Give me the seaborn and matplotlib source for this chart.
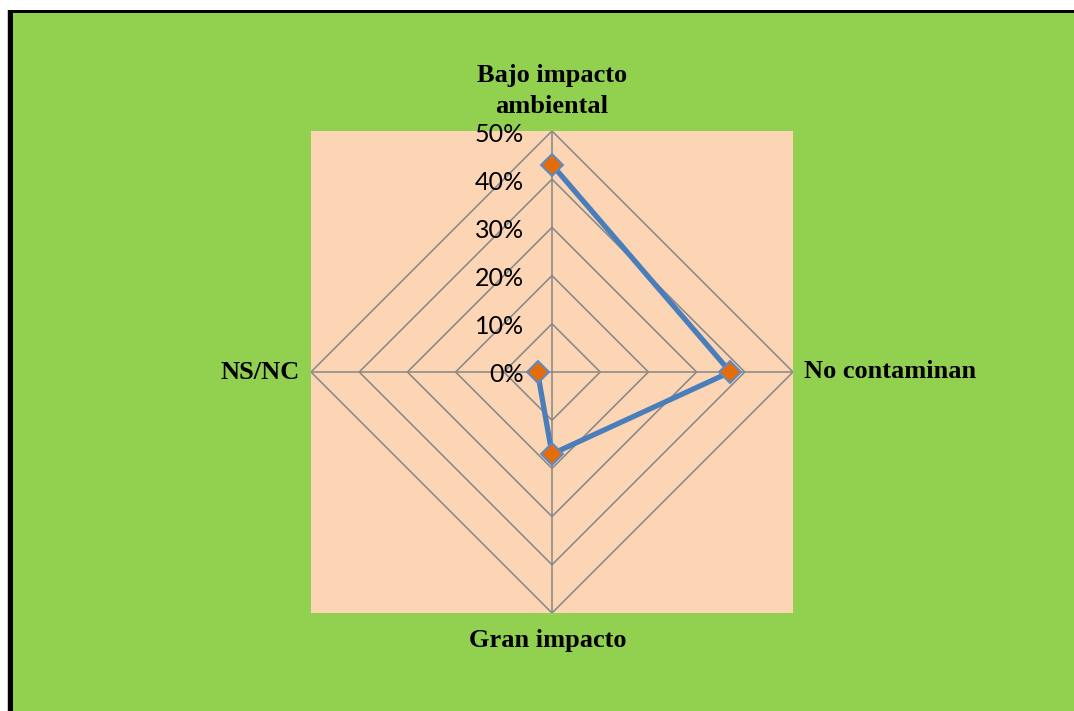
import numpy as np
import pandas as pd
import matplotlib
matplotlib.use("Agg")
import matplotlib.pyplot as plt
from matplotlib.patches import Rectangle
import seaborn as sns

# Survey answers: share of respondents per category
categories = ["Bajo impacto\nambiental", "No contaminan", "Gran impacto", "NS/NC"]
shares = [0.43, 0.37, 0.17, 0.03]
ring_levels = [0.1, 0.2, 0.3, 0.4, 0.5]
ring_labels = ["0%", "10%", "20%", "30%", "40%", "50%"]

sns.set_theme(style="white")
plt.rcParams["font.family"] = ["Lato", "DejaVu Sans"]

W, H = 1074, 711
fig = plt.figure(figsize=(W / 100, H / 100), dpi=100, facecolor="white")

# Chart frame: thin black border on the left/top, green chart area
fig.patches.append(Rectangle((7 / W, 0), 1 - 7 / W, 1 - 10 / H, transform=fig.transFigure,
                             facecolor="#c8c8c8", edgecolor="none", zorder=-4))
fig.patches.append(Rectangle((8 / W, 0), 1 - 8 / W, 1 - 10 / H, transform=fig.transFigure,
                             facecolor="black", edgecolor="none", zorder=-3))
fig.patches.append(Rectangle((12.7 / W, 0), 1, 1 - 13.3 / H, transform=fig.transFigure,
                             facecolor="#92D050", edgecolor="none", zorder=-2))

# Plot area (square, peach)
left, bottom, size = 311 / W, (H - 613) / H, 482
fig.patches.append(Rectangle((left, bottom), size / W, size / H, transform=fig.transFigure,
                             facecolor="#FCD5B5", edgecolor="none", zorder=-1))

ax = fig.add_axes([left, bottom, size / W, size / H], projection="polar")
ax.set_facecolor("none")
ax.set_theta_zero_location("N")
ax.set_theta_direction(-1)
ax.set_ylim(0, 0.5)
ax.grid(False)
ax.set_xticks([])
ax.set_yticks([])
ax.spines["polar"].set_visible(False)

n = len(categories)
angles = np.arange(n) * 2 * np.pi / n

# Diamond rings and spokes
grid_col = "#898989"
for r in ring_levels:
    ax.plot(np.append(angles, angles[0]), [r] * (n + 1), color=grid_col, lw=1.15, zorder=1)
for a in angles:
    ax.plot([a, a], [0, 0.5], color=grid_col, lw=1.15, zorder=1)

# Data series (closed polygon)
df = pd.DataFrame({"angle": np.append(angles, angles[0]),
                   "share": shares + shares[:1]})
sns.lineplot(data=df, x="angle", y="share", sort=False, ax=ax, color="#4A7EBB",
             lw=3.8, marker="D", markersize=11, markerfacecolor="#E46C0A",
             markeredgecolor="#5B8BC8", markeredgewidth=1.4, zorder=3)
ax.set_xlabel("")
ax.set_ylabel("")
ax.set_ylim(0, 0.5)

# Radial value labels along the top spoke
for i, lab in enumerate(ring_labels):
    ax.annotate(lab, xy=(0, i * 0.1), xytext=(-28, -3), textcoords="offset pixels",
                ha="right", va="center", fontsize=18, color="black",
                family=["Lato", "DejaVu Sans"], annotation_clip=False)

# Category labels at each vertex
cat_font = dict(family=["Liberation Serif", "DejaVu Serif"], fontweight="bold",
                fontsize=19, color="black", annotation_clip=False)
ax.annotate(categories[0], xy=(angles[0], 0.5), xytext=(0, 40), textcoords="offset pixels",
            ha="center", va="center", linespacing=1.4, **cat_font)
ax.annotate(categories[1], xy=(angles[1], 0.5), xytext=(11, 0), textcoords="offset pixels",
            ha="left", va="center", **cat_font)
ax.annotate(categories[2], xy=(angles[2], 0.5), xytext=(-4, -27), textcoords="offset pixels",
            ha="center", va="center", **cat_font)
ax.annotate(categories[3], xy=(angles[3], 0.5), xytext=(-11, 0), textcoords="offset pixels",
            ha="right", va="center", **cat_font)

fig.savefig("out.png", dpi=100, facecolor=fig.get_facecolor())
